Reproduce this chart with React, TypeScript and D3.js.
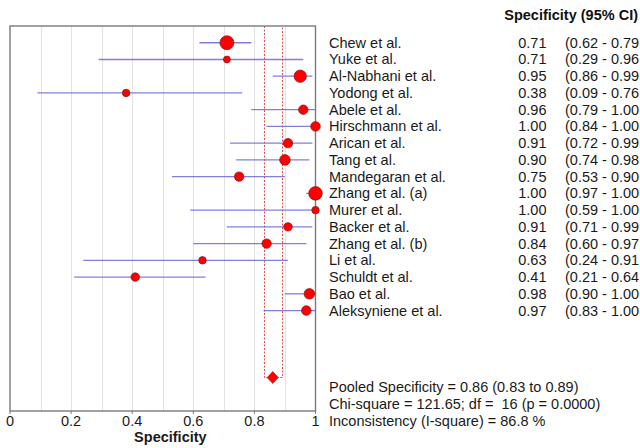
import React from 'react';
import * as d3 from 'd3';

// study data
const studies = [
  'Chew et al.', 'Yuke et al.', 'Al-Nabhani et al.', 'Yodong et al.', 'Abele et al.',
  'Hirschmann et al.', 'Arican et al.', 'Tang et al.', 'Mandegaran et al.', 'Zhang et al. (a)',
  'Murer et al.', 'Backer et al.', 'Zhang et al. (b)', 'Li et al.', 'Schuldt et al.',
  'Bao et al.', 'Aleksyniene et al.',
];
const spec = [0.71, 0.71, 0.95, 0.38, 0.96, 1.0, 0.91, 0.9, 0.75, 1.0, 1.0, 0.91, 0.84, 0.63, 0.41, 0.98, 0.97];
const lower = [0.62, 0.29, 0.86, 0.09, 0.79, 0.84, 0.72, 0.74, 0.53, 0.97, 0.59, 0.71, 0.6, 0.24, 0.21, 0.9, 0.83];
const upper = [0.79, 0.96, 0.99, 0.76, 1.0, 1.0, 0.99, 0.98, 0.9, 1.0, 1.0, 0.99, 0.97, 0.91, 0.64, 1.0, 1.0];
// relative study weights (marker area)
const weights = [49, 12, 38, 14, 22, 23, 22, 28, 22, 46, 14, 18, 22, 14, 18, 28, 23];

const pooled = { est: 0.86, lo: 0.83, hi: 0.89 };
const footer = [
  'Pooled Specificity = 0.86 (0.83 to 0.89)',
  'Chi-square = 121.65; df =  16 (p = 0.0000)',
  'Inconsistency (I-square) = 86.8 %',
];
const xTicks = [0, 0.2, 0.4, 0.6, 0.8, 1];
const gridTicks = [0.1, 0.2, 0.3, 0.4, 0.5, 0.6, 0.7, 0.8, 0.9];

const W = 640;
const H = 448;
const font = 'Arial, "Liberation Sans", sans-serif';
const fs = 14.5;

export default function App() {
  const x = d3.scaleLinear().domain([0, 1]).range([10, 315.5]);
  const y = d3.scaleLinear().domain([-1, 22]).range([26, 411]);
  const r = d3.scaleSqrt().domain([0, 49]).range([0, 7]);
  const fmt = d3.format('.2f');
  const tickFmt = d3.format('~g');
  const snap = (v: number) => Math.round(v) + 0.5;

  const top = y(-1);
  const bottom = y(22);
  const yd = y(20);

  const xl = snap(x(pooled.lo));
  const xh = snap(x(pooled.hi));
  const pooledPath = `M${xl},${top}L${xl},${yd}L${xh},${yd}L${xh},${top}`;
  const dx = 5.5;
  const dy = 6;
  const diamond = `M${x(pooled.est) - dx},${yd}L${x(pooled.est)},${yd - dy}L${x(pooled.est) + dx},${yd}L${x(pooled.est)},${yd + dy}Z`;

  return (
    <svg width={W} height={H} style={{ position: 'absolute', left: 0, top: 0, background: '#fff' }} fontFamily={font}>
      {/* grid */}
      {gridTicks.map(t => (
        <line key={t} x1={snap(x(t))} x2={snap(x(t))} y1={top} y2={bottom} stroke="#e2e2e2" strokeWidth={1} />
      ))}

      {/* pooled CI dashed lines */}
      <path d={pooledPath} fill="none" stroke="#e84a4a" strokeWidth={1} strokeDasharray="2,1.5" />

      {/* frame */}
      <rect x={x(0)} y={top} width={x(1) - x(0)} height={bottom - top} fill="none" stroke="#7a7a7a" strokeWidth={1.4} />

      {/* x ticks */}
      {xTicks.map(t => (
        <g key={t}>
          <line x1={x(t)} x2={x(t)} y1={bottom} y2={bottom + 3} stroke="#7a7a7a" />
          <text x={x(t)} y={426} textAnchor="middle" fontSize={fs} fill="#1a1a1a">{tickFmt(t)}</text>
        </g>
      ))}
      <text x={x(0.525)} y={442} textAnchor="middle" fontSize={fs} fontWeight="bold" fill="#1a1a1a">Specificity</text>

      {/* CI lines */}
      {studies.map((s, i) => (
        <line key={s + 'ci'} x1={x(lower[i])} x2={x(upper[i])} y1={y(i)} y2={y(i)} stroke="#6a6ad6" strokeWidth={1.3} strokeOpacity={0.85} />
      ))}
      {/* study points */}
      {studies.map((s, i) => (
        <circle key={s + 'pt'} cx={x(spec[i])} cy={y(i)} r={r(weights[i])} fill="#ff0000" stroke="#8a1010" strokeWidth={0.7} />
      ))}

      <path d={diamond} fill="#ff0000" stroke="#c00000" strokeWidth={0.6} />

      {/* right-hand table (closing bracket falls past the picture edge, as in the source) */}
      <text x={638} y={20} fontSize={fs} fontWeight="bold" fill="#111" textAnchor="end">Specificity (95% CI)</text>
      {studies.map((s, i) => (
        <g key={s + 'txt'} fontSize={fs} fill="#1a1a1a">
          <text x={329} y={y(i) + 5}>{s}</text>
          <text x={546.5} y={y(i) + 5} textAnchor="end">{fmt(spec[i])}</text>
          <text x={565} y={y(i) + 5}>{`(${fmt(lower[i])} - ${fmt(upper[i])}`}</text>
        </g>
      ))}

      {footer.map((t, i) => (
        <text key={t} x={329} y={391.5 + i * 17} fontSize={fs} fill="#1a1a1a" style={{ whiteSpace: 'pre' }}>{t}</text>
      ))}
    </svg>
  );
}
